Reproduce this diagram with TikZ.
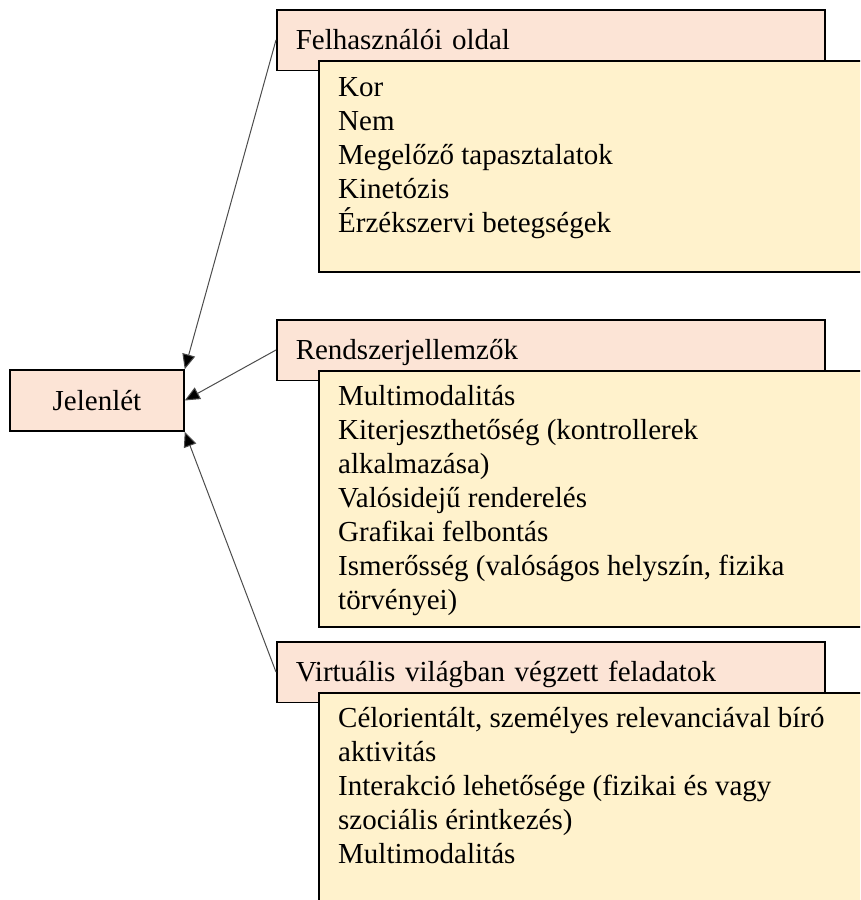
\documentclass[tikz,border=0pt]{standalone}
\usepackage{fontspec}
\setmainfont{Liberation Serif}
\usetikzlibrary{arrows.meta}
\definecolor{headfill}{HTML}{FCE4D6}
\definecolor{listfill}{HTML}{FFF2CC}
\begin{document}
\begin{tikzpicture}[x=1pt,y=-1pt,font=\fontsize{29}{34}\selectfont,
    head/.style={draw,line width=1.5pt,fill=headfill,anchor=north west,minimum width=548pt,minimum height=60.5pt,
        text width=510pt,inner xsep=19pt,align=left,text height=20pt,text depth=2pt},
    list/.style={draw,line width=1.5pt,fill=listfill,anchor=north west,minimum width=562pt},
    items/.style={anchor=north west,inner sep=0pt,align=left},
    link/.style={draw=black!70,line width=1pt,-{Triangle[length=15pt,width=13pt,fill=black]}}]
    \useasboundingbox (0,0) rectangle (860,900);
    \clip (0,0) rectangle (860,900);
    \node[draw,line width=1.5pt,fill=headfill,minimum width=174pt,minimum height=61pt](presence) at (97,400.5){Jelenlét};
    % felhasznaloi oldal
    \node[head](userhead) at (276,9){Felhasználói oldal};
    \node[list,minimum height=211pt](userlist) at (318,60){};
    \node[items](useritems) at ([shift={(20,12.2)}]userlist.north west)
        {\strut Kor\\Nem\\Megelőző tapasztalatok\\Kinetózis\\Érzékszervi betegségek};
    % rendszerjellemzok
    \node[head](systemhead) at (276,319){Rendszerjellemzők};
    \node[list,minimum height=256pt](systemlist) at (318,370){};
    \node[items](systemitems) at ([shift={(20,11.2)}]systemlist.north west)
        {\strut Multimodalitás\\Kiterjeszthetőség (kontrollerek\\alkalmazása)\\Valósidejű renderelés\\Grafikai felbontás\\Ismerősség (valóságos helyszín, fizika\\törvényei)};
    % feladatok
    \node[head](taskhead) at (276,641){Virtuális világban végzett feladatok};
    \node[list,minimum height=240pt](tasklist) at (318,692){};
    \node[items](taskitems) at ([shift={(20,11.2)}]tasklist.north west)
        {\strut Célorientált, személyes relevanciával bíró\\aktivitás\\Interakció lehetősége (fizikai és vagy\\szociális érintkezés)\\Multimodalitás};
    \draw[link] (userhead.west)--(presence.north east);
    \draw[link] (systemhead.west)--(presence.east);
    \draw[link] (taskhead.west)--(presence.south east);
\end{tikzpicture}
\end{document}
